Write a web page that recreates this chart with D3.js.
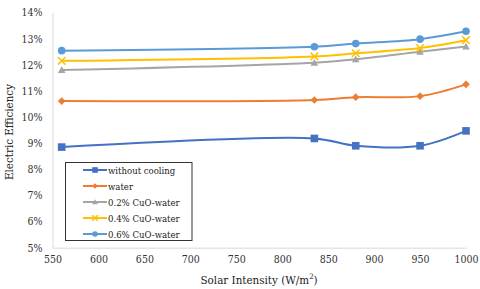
<!DOCTYPE html>
<html>
<head>
<meta charset="utf-8">
<script src="https://cdn.jsdelivr.net/npm/d3@7"></script>
<style>
body { margin: 0; background: #fff; }
svg text { font-stretch: condensed; }
</style>
</head>
<body>
<div id="chart"></div>
<script>
var w = 480;
var h = 289;
var serif = "DejaVu Serif Condensed, DejaVu Serif";

// data
var intensity = [560, 835, 880, 950, 1000];
var withoutCooling = [8.85, 9.18, 8.90, 8.90, 9.47];
var water = [10.61, 10.65, 10.76, 10.80, 11.25];
var cuo02 = [11.80, 12.08, 12.21, 12.50, 12.70];
var cuo04 = [12.15, 12.32, 12.44, 12.64, 12.94];
var cuo06 = [12.54, 12.69, 12.81, 12.98, 13.28];
var seriesNames = ["without cooling", "water", "0.2% CuO-water", "0.4% CuO-water", "0.6% CuO-water"];
var seriesColors = ["#4472C4", "#ED7D31", "#A5A5A5", "#FFC000", "#5B9BD5"];
var seriesMarkers = ["square", "diamond", "triangle", "cross", "circle"];
var xTicks = [550, 600, 650, 700, 750, 800, 850, 900, 950, 1000];
var yTicks = [5, 6, 7, 8, 9, 10, 11, 12, 13, 14];

var allSeries = [withoutCooling, water, cuo02, cuo04, cuo06];

var xScale = d3.scaleLinear()
			.domain([550, 1000])
			.range([52.5, 466]);

var yScale = d3.scaleLinear()
			.domain([5, 14])
			.range([247.7, 12.5]);

var svg = d3.select("#chart")
		.append("svg")
		.attr("width", w)
		.attr("height", h);

//axes
var xAxis = d3.axisBottom(xScale).tickValues(xTicks).tickSize(0).tickPadding(8)
		.tickFormat(d3.format("d"));
var yAxis = d3.axisLeft(yScale).tickValues(yTicks).tickSize(0).tickPadding(10)
		.tickFormat(function(d) { return d + "%"; });

var gx = svg.append("g")
	.attr("transform", "translate(0," + yScale(5) + ")")
	.call(xAxis)
	.attr("font-family", serif)
	.attr("font-size", 10.5);
gx.select(".domain").attr("stroke", "#d9d9d9");
gx.selectAll("text").attr("fill", "#333");

var gy = svg.append("g")
	.attr("transform", "translate(" + xScale(550) + ",0)")
	.call(yAxis)
	.attr("font-family", serif)
	.attr("font-size", 10.5);
gy.select(".domain").attr("stroke", "#d9d9d9");
gy.selectAll("text").attr("fill", "#333");

// axis titles
svg.append("text")
	.attr("x", 259)
	.attr("y", 284)
	.attr("text-anchor", "middle")
	.attr("font-family", serif)
	.attr("font-size", 11.5)
	.attr("fill", "#222")
	.html("Solar Intensity (W/m<tspan dy='-5' font-size='7.5'>2</tspan><tspan dy='5'>)</tspan>");

svg.append("text")
	.attr("transform", "translate(13,132) rotate(-90)")
	.attr("text-anchor", "middle")
	.attr("font-family", serif)
	.attr("font-size", 11.5)
	.attr("fill", "#222")
	.text("Electric Efficiency");

//marker drawing
function drawMarker(g, type, color, size) {
	if (type == "square") {
		g.append("rect").attr("x", -size).attr("y", -size)
			.attr("width", size * 2).attr("height", size * 2).attr("fill", color);
	} else if (type == "diamond") {
		g.append("path").attr("d", "M0," + (-size) + "L" + size + ",0L0," + size + "L" + (-size) + ",0Z")
			.attr("fill", color);
	} else if (type == "triangle") {
		g.append("path").attr("d", "M0," + (-size) + "L" + size + "," + (size * 0.8) + "L" + (-size) + "," + (size * 0.8) + "Z")
			.attr("fill", color);
	} else if (type == "cross") {
		g.append("path").attr("d", "M" + (-size) + "," + (-size) + "L" + size + "," + size + "M" + size + "," + (-size) + "L" + (-size) + "," + size)
			.attr("stroke", color).attr("stroke-width", 1.5).attr("fill", "none");
	} else {
		g.append("circle").attr("r", size).attr("fill", color);
	}
}

var line = d3.line()
	.x(function(d, i) { return xScale(intensity[i]); })
	.y(function(d) { return yScale(d); })
	.curve(d3.curveCatmullRom.alpha(0.5));

allSeries.forEach(function(values, s) {
	svg.append("path")
		.datum(values)
		.attr("d", line)
		.attr("fill", "none")
		.attr("stroke", seriesColors[s])
		.attr("stroke-width", 2);

	values.forEach(function(v, i) {
		var g = svg.append("g")
			.attr("transform", "translate(" + xScale(intensity[i]) + "," + yScale(v) + ")");
		drawMarker(g, seriesMarkers[s], seriesColors[s], 3.8);
	});
});

//legend
var legend = svg.append("g")
	.attr("font-family", serif);
legend.append("rect")
	.attr("x", 65.5)
	.attr("y", 162.5)
	.attr("width", 126.5)
	.attr("height", 78)
	.attr("fill", "#fff")
	.attr("stroke", "#333")
	.attr("stroke-width", 1);

seriesNames.forEach(function(name, s) {
	var ly = 170 + s * 16;
	legend.append("line")
		.attr("x1", 83).attr("x2", 107)
		.attr("y1", ly).attr("y2", ly)
		.attr("stroke", seriesColors[s])
		.attr("stroke-width", 2);
	var g = legend.append("g").attr("transform", "translate(95," + ly + ")");
	drawMarker(g, seriesMarkers[s], seriesColors[s], 2.8);
	legend.append("text")
		.attr("x", 108)
		.attr("y", ly + 3.5)
		.attr("font-size", 9.5)
		.attr("fill", "#222")
		.text(name);
});
</script>
</body>
</html>
